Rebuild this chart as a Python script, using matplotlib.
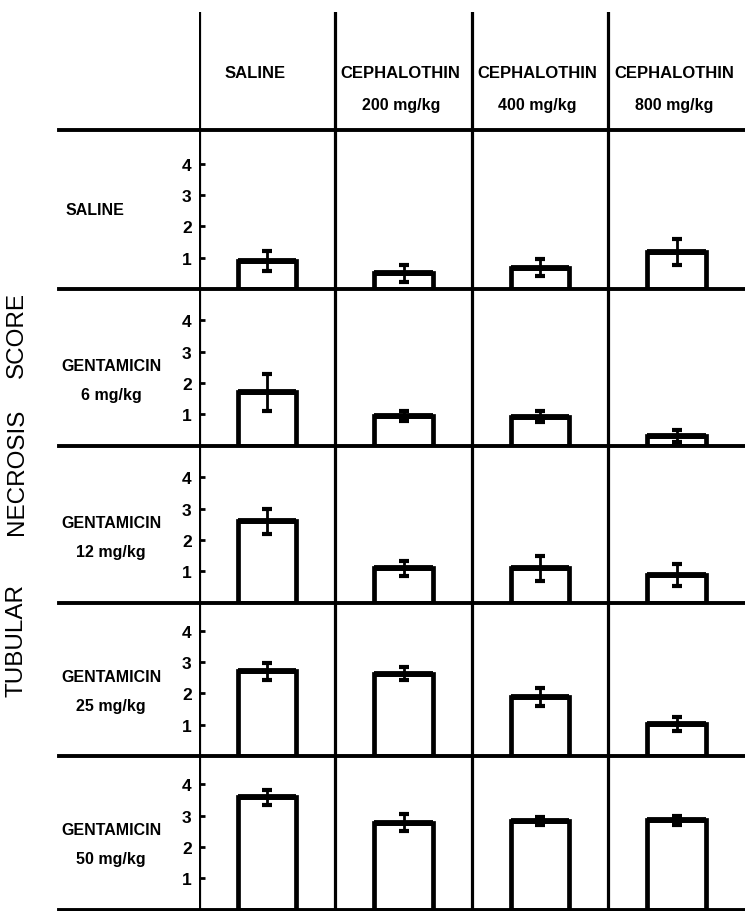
import matplotlib.pyplot as plt
from matplotlib.lines import Line2D
from matplotlib.transforms import blended_transform_factory

plt.rcParams['font.family'] = ['Liberation Sans', 'DejaVu Sans']

# columns: cephalothin treatment
col_names = ["SALINE", "CEPHALOTHIN", "CEPHALOTHIN", "CEPHALOTHIN"]
col_doses = ["", "200 mg/kg", "400 mg/kg", "800 mg/kg"]

# rows: gentamicin treatment
row_names = ["SALINE", "GENTAMICIN", "GENTAMICIN", "GENTAMICIN", "GENTAMICIN"]
row_doses = ["", "6 mg/kg", "12 mg/kg", "25 mg/kg", "50 mg/kg"]

# tubular necrosis score, mean and error per row (columns in order above)
score_saline = [0.90, 0.50, 0.68, 1.18]
score_gent6 = [1.70, 0.95, 0.92, 0.30]
score_gent12 = [2.60, 1.10, 1.10, 0.88]
score_gent25 = [2.70, 2.63, 1.88, 1.03]
score_gent50 = [3.58, 2.77, 2.83, 2.85]

err_saline = [0.33, 0.28, 0.27, 0.42]
err_gent6 = [0.60, 0.16, 0.17, 0.20]
err_gent12 = [0.40, 0.24, 0.40, 0.34]
err_gent25 = [0.27, 0.20, 0.28, 0.22]
err_gent50 = [0.25, 0.27, 0.13, 0.14]

scores = [score_saline, score_gent6, score_gent12, score_gent25, score_gent50]
errors = [err_saline, err_gent6, err_gent12, err_gent25, err_gent50]
yticks = [1, 2, 3, 4]

W, H = 745, 912
x_left, x_right = 198.6, 745
line_top = 13
row_edges = [131, 290, 446.5, 603.5, 757, 910.5]
unit_px = 31.3

fig = plt.figure(figsize=(W / 100, H / 100), dpi=100)


def fy(px):
    return 1 - px / H


xpos = list(range(len(col_names)))
bounds = [-0.5, 0.5, 1.5, 2.5]

# header
hax = fig.add_axes([x_left / W, fy(row_edges[0]), (x_right - x_left) / W,
                    (row_edges[0] - line_top) / H])
hax.set_xlim(-0.5, 3.5)
hax.set_ylim(0, 1)
hax.axis('off')
for b in bounds:
    hax.axvline(b, color='black', lw=2.3)
for i, (name, dose) in enumerate(zip(col_names, col_doses)):
    dx = -0.09 if dose == "" else -0.02
    hax.text(i + dx, 0.49, name, ha='center', va='center', fontsize=12,
             fontweight='bold')
    if dose:
        hax.text(i - 0.02, 0.22, dose, ha='center', va='center', fontsize=11.5,
                 fontweight='bold')

for r in range(len(row_names)):
    top, bot = row_edges[r], row_edges[r + 1]
    ax = fig.add_axes([x_left / W, fy(bot), (x_right - x_left) / W, (bot - top) / H])
    ax.set_xlim(-0.5, 3.5)
    ax.set_ylim(0, (bot - top) / unit_px)
    for s in ax.spines.values():
        s.set_visible(False)
    for b in bounds:
        ax.axvline(b, color='black', lw=2.3, zorder=1)

    ax.bar(xpos, scores[r], width=0.43, facecolor='white', edgecolor='black',
           linewidth=3.4, zorder=3)
    ax.hlines(scores[r], [x - 0.215 for x in xpos], [x + 0.215 for x in xpos],
              color='black', lw=4.2, zorder=4)
    ax.errorbar(xpos, scores[r], yerr=errors[r], fmt='none', ecolor='black',
                elinewidth=2.0, capsize=3.5, capthick=3.0, zorder=5)

    ax.set_xticks([])
    ax.set_yticks(yticks)
    ax.set_yticklabels([str(t) for t in yticks], fontsize=12.5, fontweight='bold')
    ax.tick_params(axis='y', direction='in', length=4, width=2, pad=5)

    trans = blended_transform_factory(ax.transAxes, ax.transData)
    if row_doses[r]:
        ax.text(-0.16, 2.55, row_names[r], transform=trans, ha='center',
                va='center', fontsize=11.5, fontweight='bold')
        ax.text(-0.16, 1.62, row_doses[r], transform=trans, ha='center',
                va='center', fontsize=11.5, fontweight='bold')
    else:
        ax.text(-0.19, 2.55, row_names[r], transform=trans, ha='center',
                va='center', fontsize=11.5, fontweight='bold')

# horizontal rules
for y in row_edges:
    fig.add_artist(Line2D([59 / W, 1], [fy(y), fy(y)], color='black', lw=2.8,
                          transform=fig.transFigure))

# y label
for word, yc in [("SCORE", 335), ("NECROSIS", 472), ("TUBULAR", 641)]:
    fig.text(17 / W, fy(yc), word, rotation=90, ha='center', va='center',
             fontsize=17.5)

fig.savefig('out.png', dpi=100)
